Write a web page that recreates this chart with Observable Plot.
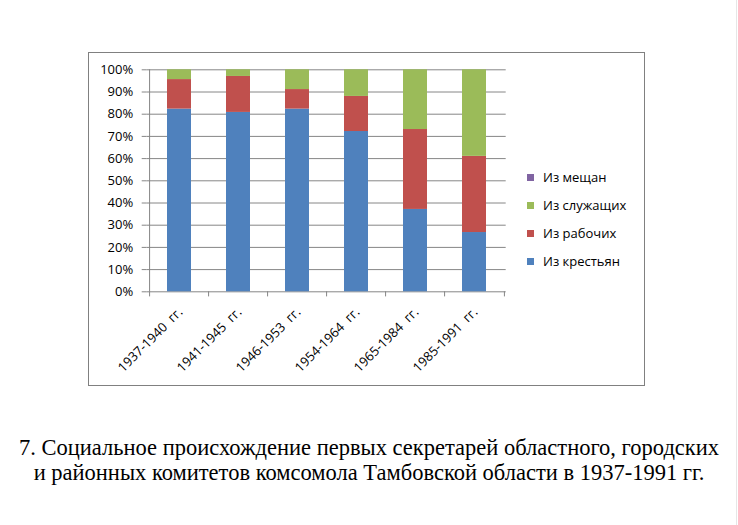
<!DOCTYPE html>
<html><head><meta charset="utf-8">
<script src="https://cdn.jsdelivr.net/npm/d3@7"></script>
<script src="https://cdn.jsdelivr.net/npm/@observablehq/plot@0.6"></script>
<style>
body{margin:0;background:#fff;}
#wrap{position:relative;width:738px;height:525px;overflow:hidden;background:#fff;}
#chart{position:absolute;left:0;top:0;}
#border{position:absolute;left:88px;top:52px;width:557px;height:334px;box-sizing:border-box;border:1.5px solid #808080;}
#legend{position:absolute;left:527px;top:168px;font-family:"Open Sans",sans-serif;font-size:13px;color:#000;}
#legend .row{position:absolute;left:0;white-space:nowrap;height:18px;line-height:18px;}
#legend .sw{display:inline-block;width:7px;height:7px;margin-right:9px;vertical-align:1px;}
#caption{position:absolute;left:0;top:435px;width:738px;text-align:center;font-family:"Liberation Serif","Times New Roman",serif;font-size:22.5px;line-height:25px;color:#000;}
#edge{position:absolute;left:736px;top:0;width:1px;height:525px;background:#e6e6e6;}
</style></head>
<body>
<div id="wrap">
  <div id="border"></div>
  <div id="chart"></div>
  <div id="legend"></div>
  <div id="caption"></div>
  <div id="edge"></div>
</div>
<script>
// ---- data ----
const periods = ["1937-1940\u00A0\u00A0гг.", "1941-1945\u00A0\u00A0гг.", "1946-1953\u00A0\u00A0гг.", "1954-1964\u00A0\u00A0гг.", "1965-1984\u00A0\u00A0гг.", "1985-1991\u00A0\u00A0гг."];
const series = ["Из крестьян", "Из рабочих", "Из служащих", "Из мещан"];
const peasants  = [82.3, 80.8, 82.3, 72.2, 37.1, 26.7];
const workers   = [13.3, 16.2, 8.8, 15.8, 36.0, 34.3];
const employees = [4.4, 3.0, 8.9, 12.0, 26.9, 39.0];
const townsfolk = [0, 0, 0, 0, 0, 0];
const yTicks = [0, 10, 20, 30, 40, 50, 60, 70, 80, 90, 100];
const colors = ["#4F81BD", "#C0504D", "#9BBB59", "#8064A2"];
const legendOrder = ["Из мещан", "Из служащих", "Из рабочих", "Из крестьян"];
const captionLines = [
  "7. Социальное происхождение первых секретарей областного, городских",
  "и районных комитетов комсомола Тамбовской области в 1937-1991 гг."
];

// ---- table ----
const valuesBySeries = [peasants, workers, employees, townsfolk];
const rows = [];
series.forEach((s, si) => periods.forEach((p, pi) => rows.push({period: p, series: s, value: valuesBySeries[si][pi]})));

const W = 738, H = 400;
const mL = 146.7, mR = 232.3, mT = 69.3, mB = 108.7;
const pIn = 0.6, pOut = 0.3;
const step = (W - mL - mR) / (periods.length - pIn + 2 * pOut);
const gray = "#868686";

const chart = Plot.plot({
  width: W, height: H,
  marginLeft: mL, marginRight: mR, marginTop: mT, marginBottom: mB,
  style: {fontFamily: "'Open Sans', sans-serif", fontSize: "13px", color: "#000", background: "transparent", overflow: "visible"},
  x: {domain: periods, paddingInner: pIn, paddingOuter: pOut, label: null},
  y: {domain: [0, 100], label: null},
  color: {domain: series, range: colors},
  marks: [
    Plot.ruleY(yTicks, {stroke: gray, strokeWidth: 1}),
    Plot.barY(rows, {x: "period", y: "value", fill: "series", order: series}),
    Plot.ruleX([periods[0]], {y1: 0, y2: 100, dx: -step / 2, stroke: gray}),
    Plot.ruleX(periods, {y1: 0, y2: -2.3, dx: -step / 2, stroke: gray}),
    Plot.ruleX([periods[periods.length - 1]], {y1: 0, y2: -2.3, dx: step / 2, stroke: gray}),
    Plot.axisY({ticks: yTicks, tickSize: 5, tickPadding: 9, stroke: gray, fill: "#000", fontSize: 13, tickFormat: d => d + "%", label: null}),
    Plot.axisX({tickSize: 0, tickPadding: 18, tickRotate: -45, dx: 1, fill: "#000", fontSize: 13, label: null})
  ]
});
document.getElementById("chart").appendChild(chart);

// ---- legend ----
const leg = document.getElementById("legend");
legendOrder.forEach((name, i) => {
  const row = document.createElement("div");
  row.className = "row";
  row.style.top = (i * 28) + "px";
  const sw = document.createElement("span");
  sw.className = "sw";
  sw.style.background = colors[series.indexOf(name)];
  row.appendChild(sw);
  row.appendChild(document.createTextNode(name));
  leg.appendChild(row);
});

// ---- caption ----
const cap = document.getElementById("caption");
captionLines.forEach(t => { const d = document.createElement("div"); d.textContent = t; cap.appendChild(d); });
</script>
</body></html>
